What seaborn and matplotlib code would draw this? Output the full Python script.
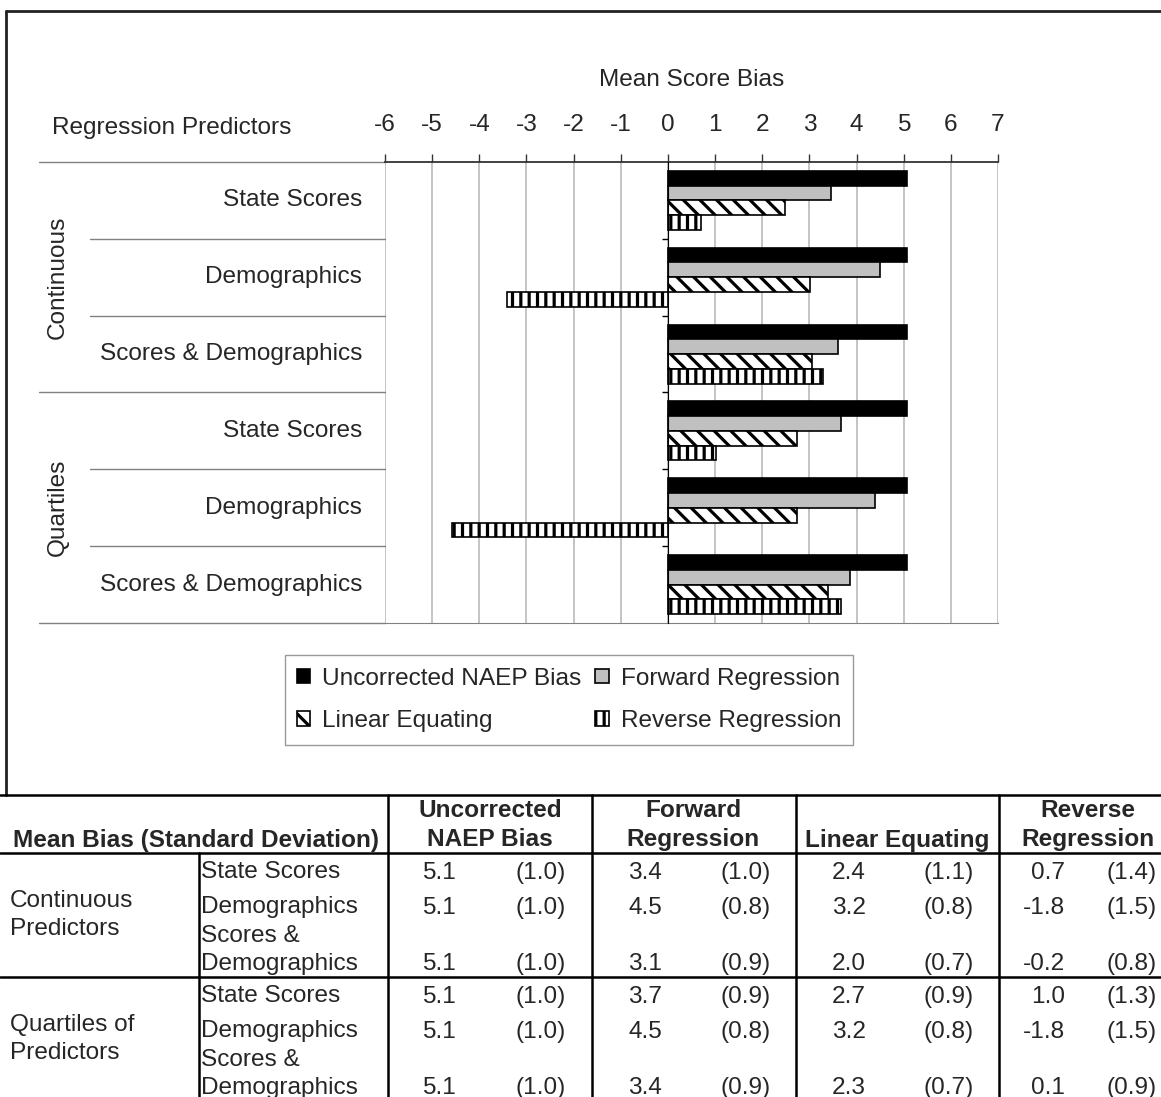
import pandas as pd
import seaborn as sns
import matplotlib.pyplot as plt
from matplotlib.lines import Line2D

# datos del grafico
groups = ["Continuous", "Quartiles"]
predictors = ["State Scores", "Demographics", "Scores & Demographics"]
methods = ["Uncorrected NAEP Bias", "Forward Regression", "Linear Equating", "Reverse Regression"]

uncorrected = [5.07, 5.07, 5.07, 5.07, 5.07, 5.07]
forward = [3.45, 4.50, 3.60, 3.66, 4.39, 3.87]
linear = [2.48, 3.02, 3.05, 2.73, 2.73, 3.40]
reverse = [0.70, -3.42, 3.29, 1.03, -4.58, 3.67]

x_ticks = list(range(-6, 8))

# datos de la tabla
table_groups = ["Continuous\nPredictors", "Quartiles of\nPredictors"]
table_rows = ["State Scores", "Demographics", "Scores &\nDemographics"]
table_headers = ["Uncorrected\nNAEP Bias", "Forward\nRegression", "Linear Equating", "Reverse\nRegression"]
mean_uncorrected = ["5.1", "5.1", "5.1", "5.1", "5.1", "5.1"]
sd_uncorrected = ["(1.0)", "(1.0)", "(1.0)", "(1.0)", "(1.0)", "(1.0)"]
mean_forward = ["3.4", "4.5", "3.1", "3.7", "4.5", "3.4"]
sd_forward = ["(1.0)", "(0.8)", "(0.9)", "(0.9)", "(0.8)", "(0.9)"]
mean_linear = ["2.4", "3.2", "2.0", "2.7", "3.2", "2.3"]
sd_linear = ["(1.1)", "(0.8)", "(0.7)", "(0.9)", "(0.8)", "(0.7)"]
mean_reverse = ["0.7", "-1.8", "-0.2", "1.0", "-1.8", "0.1"]
sd_reverse = ["(1.4)", "(1.5)", "(0.8)", "(1.3)", "(1.5)", "(0.9)"]

sns.set_style("white")
plt.rcParams["font.family"] = ["Liberation Sans", "DejaVu Sans"]
plt.rcParams["axes.unicode_minus"] = False
plt.rcParams["hatch.linewidth"] = 2.3
FS = 17.6

W, H = 1161, 1097
fig = plt.figure(figsize=(W / 100, H / 100), dpi=100)

# capa para lineas y textos en pixeles
over = fig.add_axes([0, 0, 1, 1])
over.set_xlim(0, W)
over.set_ylim(H, 0)
over.axis("off")

ax = fig.add_axes([385 / W, 1 - 623 / H, 613 / W, 461 / H])

row_keys = [g + "|" + p for g in groups for p in predictors]
rows = []
for name, vals in zip(methods, [uncorrected, forward, linear, reverse]):
    for k, v in zip(row_keys, vals):
        rows.append({"row": k, "method": name, "bias": v})
df = pd.DataFrame(rows)

colors = ["black", "#C0C0C0", "white", "white"]
sns.barplot(data=df, x="bias", y="row", hue="method", order=row_keys, hue_order=methods,
            orient="h", palette=colors, saturation=1, width=0.77,
            edgecolor="black", linewidth=1.2, legend=False, ax=ax, zorder=3)

hatches = [None, None, "\\\\", "||"]
for cont, h in zip(ax.containers, hatches):
    for p in cont.patches:
        if h:
            p.set_hatch(h)

ax.set_xlim(-6, 7)
ax.set_ylim(5.5, -0.5)
ax.set_xticks(x_ticks)
ax.xaxis.tick_top()
ax.xaxis.set_label_position("top")
ax.set_xlabel("Mean Score Bias", fontsize=FS, labelpad=20)
ax.set_ylabel("")
ax.tick_params(axis="x", top=True, bottom=False, direction="out", length=6, width=1,
               color="#333333", labelsize=FS, pad=13)
ax.grid(axis="x", color="#BFBFBF", lw=1.3, zorder=0)
ax.grid(axis="y", visible=False)
ax.set_axisbelow(True)

ax.spines["left"].set_position(("data", 0))
ax.spines["left"].set_color("black")
ax.spines["left"].set_zorder(4)
ax.spines["right"].set_visible(False)
ax.spines["bottom"].set_color("#808080")
ax.spines["top"].set_color("#333333")
ax.spines["top"].set_linewidth(1.3)
ax.set_yticks([0.5, 1.5, 2.5, 3.5, 4.5])
ax.set_yticklabels([])
ax.tick_params(axis="y", left=True, direction="out", length=4, width=1, color="black")

# etiquetas de categorias a la izquierda
tr = ax.get_yaxis_transform()
for i, k in enumerate(row_keys):
    ax.text((362 - 385) / 613, i, k.split("|")[1], transform=tr, ha="right", va="center",
            fontsize=FS, clip_on=False)
for j, g in enumerate(groups):
    ax.text((58 - 385) / 613, j * 3 + 1, g, transform=tr, ha="center", va="center",
            rotation=90, fontsize=FS, clip_on=False)
for b in [-0.5, 0.5, 1.5, 2.5, 3.5, 4.5, 5.5]:
    x0 = 39 if b in (-0.5, 2.5, 5.5) else 90
    ax.add_line(Line2D([(x0 - 385) / 613, 0], [b, b], transform=tr, color="#808080",
                       lw=1, clip_on=False))
over.text(52, 128, "Regression Predictors", fontsize=FS, va="center")

# leyenda (orden por filas como en el original)
conts = list(ax.containers)
order = [0, 2, 1, 3]
fig.legend(handles=[conts[i] for i in order], labels=[methods[i] for i in order], ncol=2,
           loc="center", bbox_to_anchor=(569 / W, 1 - 700 / H), fontsize=FS, frameon=True,
           fancybox=False, edgecolor="#808080", handlelength=0.55, handleheight=0.55,
           handletextpad=0.5, columnspacing=0.55, labelspacing=0.85, borderpad=0.5)

# marco del grafico
over.plot([6, 6], [11, 795], color="#222222", lw=2)
over.plot([6, W], [11, 11], color="#222222", lw=2)

# tabla
top, hdr, mid = 795, 853, 977
for y in (top, hdr, mid):
    over.plot([0, W], [y, y], color="black", lw=1.8)
col_left = [388, 592, 796, 999]
for x in col_left:
    over.plot([x, x], [top, H], color="black", lw=1.8)
over.plot([199, 199], [hdr, H], color="black", lw=1.8)

over.text(196, 840, "Mean Bias (Standard Deviation)", ha="center", va="center",
          fontsize=FS, fontweight="bold")
head_x = [490, 693, 897, 1088]
for x, t in zip(head_x, table_headers):
    over.text(x, 825 if "\n" in t else 840, t, ha="center", va="center", fontsize=FS,
              fontweight="bold", linespacing=1.3)

means = [mean_uncorrected, mean_forward, mean_linear, mean_reverse]
sds = [sd_uncorrected, sd_forward, sd_linear, sd_reverse]
mean_right = [456, 662, 866, 1065]
sd_right = [566, 771, 974, 1157]
for gi, (gname, base) in enumerate(zip(table_groups, [hdr, mid])):
    over.text(10, base + 62, gname, ha="left", va="center", fontsize=FS, linespacing=1.4)
    label_y = [base + 19, base + 54, base + 97]
    num_y = [base + 20, base + 55, base + 111]
    for ri, (lab, ly, ny) in enumerate(zip(table_rows, label_y, num_y)):
        over.text(201, ly, lab, ha="left", va="center", fontsize=FS, linespacing=1.35)
        idx = gi * 3 + ri
        for c in range(4):
            over.text(mean_right[c], ny, means[c][idx], ha="right", va="center", fontsize=FS)
            over.text(sd_right[c], ny, sds[c][idx], ha="right", va="center", fontsize=FS)

fig.savefig("out.png", dpi=100)
